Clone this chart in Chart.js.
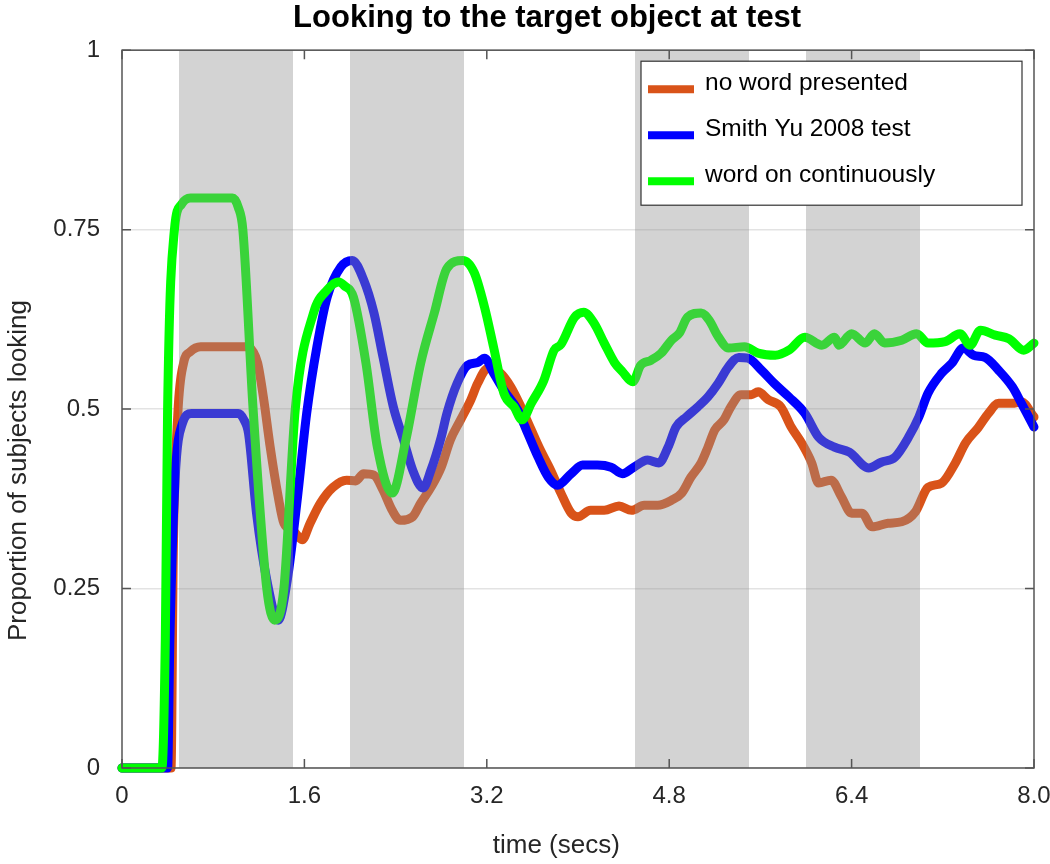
<!DOCTYPE html>
<html>
<head>
<meta charset="utf-8">
<title>Looking to the target object at test</title>
<script src="https://cdn.jsdelivr.net/npm/chart.js@4.4.1/dist/chart.umd.min.js"></script>
<style>
  html, body { margin: 0; padding: 0; background: #fff; }
</style>
</head>
<body>
<canvas id="graficoMirada" width="1050" height="864"></canvas>
<script>
// series (time in secs, proportion looking)
var tiempoSinPalabra = [0, 0.43, 0.45, 0.49, 0.54, 0.60, 0.69, 1.10, 1.15, 1.19, 1.24, 1.30, 1.37, 1.42, 1.50, 1.58, 1.65, 1.74, 1.85, 1.97, 2.05, 2.12, 2.21, 2.29, 2.37, 2.44, 2.55, 2.62, 2.71, 2.80, 2.88, 2.97, 3.06, 3.12, 3.21, 3.32, 3.41, 3.50, 3.59, 3.67, 3.76, 3.85, 3.94, 4.00, 4.11, 4.23, 4.36, 4.47, 4.58, 4.70, 4.82, 4.91, 4.99, 5.08, 5.14, 5.20, 5.28, 5.34, 5.43, 5.52, 5.58, 5.67, 5.78, 5.87, 5.96, 6.05, 6.11, 6.22, 6.31, 6.40, 6.49, 6.58, 6.72, 6.84, 6.96, 7.07, 7.19, 7.31, 7.40, 7.51, 7.60, 7.69, 7.81, 7.89, 8.00];
var valorSinPalabra  = [0, 0, 0.30, 0.494, 0.564, 0.58, 0.587, 0.587, 0.58, 0.564, 0.517, 0.447, 0.378, 0.341, 0.331, 0.318, 0.341, 0.369, 0.391, 0.401, 0.40, 0.41, 0.408, 0.387, 0.359, 0.345, 0.35, 0.369, 0.391, 0.419, 0.457, 0.485, 0.513, 0.536, 0.557, 0.55, 0.531, 0.503, 0.471, 0.443, 0.415, 0.383, 0.355, 0.35, 0.359, 0.359, 0.365, 0.359, 0.366, 0.366, 0.373, 0.383, 0.405, 0.425, 0.447, 0.471, 0.485, 0.503, 0.52, 0.52, 0.524, 0.513, 0.503, 0.475, 0.453, 0.425, 0.397, 0.401, 0.378, 0.355, 0.355, 0.336, 0.341, 0.343, 0.357, 0.391, 0.397, 0.425, 0.453, 0.474, 0.494, 0.508, 0.508, 0.51, 0.489];

var tiempoSmithYu = [0, 0.40, 0.42, 0.465, 0.53, 0.61, 1.02, 1.07, 1.11, 1.18, 1.27, 1.37, 1.45, 1.54, 1.62, 1.71, 1.80, 1.92, 2.02, 2.12, 2.21, 2.29, 2.38, 2.47, 2.55, 2.64, 2.71, 2.80, 2.85, 2.94, 3.03, 3.12, 3.18, 3.26, 3.35, 3.47, 3.56, 3.65, 3.74, 3.82, 3.94, 4.04, 4.17, 4.29, 4.39, 4.49, 4.61, 4.71, 4.79, 4.86, 4.95, 5.05, 5.14, 5.23, 5.32, 5.41, 5.49, 5.61, 5.72, 5.85, 5.99, 6.11, 6.25, 6.38, 6.55, 6.66, 6.78, 6.90, 6.99, 7.07, 7.19, 7.28, 7.38, 7.47, 7.57, 7.69, 7.81, 7.89, 8.00];
var valorSmithYu  = [0, 0, 0.178, 0.40, 0.48, 0.494, 0.494, 0.485, 0.466, 0.355, 0.262, 0.206, 0.262, 0.378, 0.494, 0.587, 0.656, 0.698, 0.707, 0.68, 0.634, 0.572, 0.503, 0.457, 0.415, 0.39, 0.415, 0.461, 0.494, 0.536, 0.561, 0.565, 0.571, 0.55, 0.526, 0.499, 0.466, 0.433, 0.405, 0.394, 0.41, 0.422, 0.422, 0.419, 0.41, 0.419, 0.429, 0.425, 0.447, 0.475, 0.489, 0.503, 0.517, 0.536, 0.559, 0.572, 0.571, 0.554, 0.536, 0.517, 0.494, 0.461, 0.447, 0.44, 0.418, 0.426, 0.433, 0.461, 0.489, 0.522, 0.55, 0.564, 0.585, 0.575, 0.572, 0.554, 0.531, 0.508, 0.475];

var tiempoContinua = [0, 0.35, 0.38, 0.40, 0.46, 0.52, 0.60, 0.97, 1.02, 1.06, 1.15, 1.27, 1.34, 1.42, 1.52, 1.68, 1.80, 1.90, 1.95, 2.03, 2.14, 2.24, 2.37, 2.49, 2.62, 2.74, 2.85, 2.99, 3.09, 3.18, 3.26, 3.35, 3.44, 3.51, 3.59, 3.70, 3.79, 3.85, 3.97, 4.05, 4.14, 4.23, 4.32, 4.39, 4.48, 4.55, 4.64, 4.73, 4.82, 4.89, 4.96, 5.08, 5.15, 5.23, 5.32, 5.46, 5.58, 5.73, 5.85, 5.99, 6.14, 6.25, 6.29, 6.40, 6.52, 6.60, 6.69, 6.84, 6.97, 7.07, 7.22, 7.35, 7.44, 7.53, 7.66, 7.78, 7.91, 8.00];
var valorContinua  = [0, 0, 0.18, 0.5, 0.75, 0.785, 0.794, 0.794, 0.781, 0.75, 0.5, 0.25, 0.206, 0.25, 0.5, 0.634, 0.666, 0.677, 0.672, 0.656, 0.564, 0.447, 0.383, 0.457, 0.564, 0.634, 0.696, 0.707, 0.69, 0.642, 0.586, 0.522, 0.503, 0.485, 0.508, 0.54, 0.582, 0.59, 0.628, 0.635, 0.62, 0.592, 0.565, 0.552, 0.538, 0.561, 0.568, 0.578, 0.596, 0.606, 0.628, 0.634, 0.624, 0.601, 0.585, 0.587, 0.578, 0.575, 0.582, 0.60, 0.589, 0.60, 0.589, 0.605, 0.592, 0.605, 0.592, 0.596, 0.605, 0.592, 0.594, 0.605, 0.589, 0.61, 0.603, 0.598, 0.582, 0.592];

// word presentation intervals (grey bands)
var inicioBanda = [0.5, 2.0, 4.5, 6.0];
var finBanda    = [1.5, 3.0, 5.5, 7.0];

// axis ticks
var ticksX = [0, 1.6, 3.2, 4.8, 6.4, 8.0];
var etiquetasX = ['0', '1.6', '3.2', '4.8', '6.4', '8.0'];
var ticksY = [0, 0.25, 0.5, 0.75, 1];
var etiquetasY = ['0', '0.25', '0.5', '0.75', '1'];

var fuente = "'Liberation Sans', Arial, Helvetica, sans-serif";

function puntos(t, v) {
  return t.map(function(x, i) { return { x: x, y: v[i] }; });
}
function espacios(n) { return new Array(n + 1).join(' '); }

// bands drawn over the lines, then box, inward ticks and legend
var decoracion = {
  id: 'decoracion',
  afterDatasetsDraw: function(chart) {
    var ctx = chart.ctx, a = chart.chartArea;
    var ex = chart.scales.x, ey = chart.scales.y;
    ctx.save();
    ctx.fillStyle = 'rgba(145, 145, 145, 0.4)';
    inicioBanda.forEach(function(s, i) {
      var x0 = ex.getPixelForValue(s), x1 = ex.getPixelForValue(finBanda[i]);
      ctx.fillRect(x0, a.top, x1 - x0, a.bottom - a.top);
    });

    ctx.strokeStyle = '#555555';
    ctx.lineWidth = 1.5;
    ctx.strokeRect(a.left, a.top, a.right - a.left, a.bottom - a.top);
    ctx.beginPath();
    ticksX.forEach(function(v) {
      var p = ex.getPixelForValue(v);
      ctx.moveTo(p, a.bottom); ctx.lineTo(p, a.bottom - 9);
      ctx.moveTo(p, a.top); ctx.lineTo(p, a.top + 9);
    });
    ticksY.forEach(function(v) {
      var p = ey.getPixelForValue(v);
      ctx.moveTo(a.left, p); ctx.lineTo(a.left + 9, p);
      ctx.moveTo(a.right, p); ctx.lineTo(a.right - 9, p);
    });
    ctx.stroke();

    // legend box inside the axes
    var w = 381, h = 144;
    var lx = a.right - 12 - w, ly = a.top + 11;
    ctx.fillStyle = '#ffffff';
    ctx.fillRect(lx, ly, w, h);
    ctx.strokeStyle = '#333333';
    ctx.lineWidth = 1.2;
    ctx.strokeRect(lx, ly, w, h);
    ctx.font = '24.5px ' + fuente;
    ctx.textBaseline = 'middle';
    ctx.textAlign = 'left';
    chart.data.datasets.forEach(function(ds, i) {
      var cy = ly + 22 + i * 46;
      ctx.strokeStyle = ds.borderColor;
      ctx.lineWidth = 8;
      ctx.lineCap = 'butt';
      ctx.beginPath();
      ctx.moveTo(lx + 7, cy + 6); ctx.lineTo(lx + 53, cy + 6);
      ctx.stroke();
      ctx.fillStyle = '#000000';
      ctx.fillText(ds.label, lx + 64, cy);
    });
    ctx.restore();
  }
};

var ctxMirada = document.getElementById('graficoMirada').getContext('2d');
var graficoMirada = new Chart(ctxMirada, {
  type: 'line',
  data: {
    datasets: [{
      label: 'no word presented',
      data: puntos(tiempoSinPalabra, valorSinPalabra),
      borderColor: '#D95319',
      order: 2
    }, {
      label: 'Smith Yu 2008 test',
      data: puntos(tiempoSmithYu, valorSmithYu),
      borderColor: '#0000FF',
      order: 1
    }, {
      label: 'word on continuously',
      data: puntos(tiempoContinua, valorContinua),
      borderColor: '#00FF00',
      order: 0
    }]
  },
  options: {
    responsive: false,
    animation: false,
    devicePixelRatio: 1,
    layout: { padding: { left: 0, right: 16, top: 0, bottom: 0 } },
    elements: {
      line: { borderWidth: 9, borderJoinStyle: 'round', borderCapStyle: 'round', cubicInterpolationMode: 'monotone', fill: false },
      point: { radius: 0, hoverRadius: 0 }
    },
    datasets: { line: { clip: false } },
    plugins: {
      legend: { display: false },
      tooltip: { enabled: false },
      title: {
        display: true,
        text: espacios(7) + 'Looking to the target object at test',
        color: '#000000',
        font: { family: fuente, size: 31, weight: 'bold', lineHeight: 1.2 },
        padding: { top: 0, bottom: 13 }
      }
    },
    scales: {
      x: {
        type: 'linear',
        min: 0,
        max: 8,
        afterBuildTicks: function(s) { s.ticks = ticksX.map(function(v) { return { value: v }; }); },
        afterFit: function(s) { s.height = 96; s.paddingLeft = 0; s.paddingRight = 0; },
        grid: { display: false, drawTicks: false },
        border: { display: false },
        ticks: {
          padding: 14,
          color: '#262626',
          font: { family: fuente, size: 24 },
          maxRotation: 0,
          callback: function(v, i) { return etiquetasX[i]; }
        },
        title: {
          display: true,
          text: 'time (secs)' + espacios(6),
          color: '#262626',
          font: { family: fuente, size: 26, lineHeight: 1.2 },
          padding: { top: 0, bottom: 3 }
        }
      },
      y: {
        type: 'linear',
        min: 0,
        max: 1,
        afterBuildTicks: function(s) { s.ticks = ticksY.map(function(v) { return { value: v }; }); },
        afterFit: function(s) { s.width = 122; s.paddingTop = 0; s.paddingBottom = 0; },
        grid: { display: true, drawTicks: false, color: '#e3e3e3', lineWidth: 1.5 },
        border: { display: false },
        ticks: {
          padding: 22,
          color: '#262626',
          font: { family: fuente, size: 24 },
          callback: function(v, i) { return etiquetasY[i]; }
        },
        title: {
          display: true,
          text: 'Proportion of subjects looking' + espacios(17),
          color: '#262626',
          font: { family: fuente, size: 26, lineHeight: 1.2 },
          padding: { top: 3, bottom: 0 }
        }
      }
    }
  },
  plugins: [decoracion]
});
</script>
</body>
</html>
